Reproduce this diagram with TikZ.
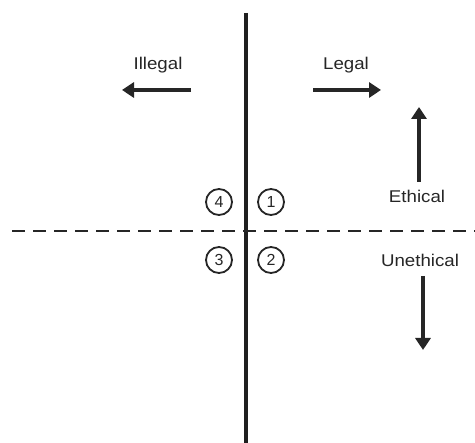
\documentclass[tikz,border=0pt]{standalone}
\usepackage{fontspec}
\setmainfont{Liberation Sans}
\usetikzlibrary{arrows.meta}
\newcommand{\wide}[1]{\scalebox{1.1}[1]{#1}}
\begin{document}
\begin{tikzpicture}[x=1pt,y=-1pt,
  lbl/.style={font=\fontsize{17}{20}\selectfont, text=black!85, inner sep=0pt, anchor=base},
  num/.style={circle, draw=black!85, line width=1.8pt, minimum size=26pt, inner sep=0pt, font=\fontsize{16}{18}\selectfont, text=black!85},
  bigarrow/.style={line width=4.4pt, draw=black!85, -{Triangle[length=12pt,width=15pt]}},
  axis/.style={line width=3.4pt, draw=black!88},
  dline/.style={line width=2.8pt, draw=black!85, dash pattern=on 13pt off 8pt}]
\useasboundingbox (0,0) rectangle (475,443);
\coordinate (vt) at (246,13);
\coordinate (vb) at (246,443);
\coordinate (hl) at (12,231);
\coordinate (hr) at (475,231);
\draw[axis] (vt) -- (vb);
\draw[dline] (hl) -- (hr);
\node[lbl] (illegal) at (158,70) {\wide{Illegal}};
\node[lbl] (legal) at (346,70) {\wide{Legal}};
\node[lbl] (ethical) at (417,203) {\wide{Ethical}};
\node[lbl] (unethical) at (420,267) {\wide{Unethical}};
\coordinate (ila) at (191,90); \coordinate (ilb) at (122,90);
\coordinate (lga) at (313,90); \coordinate (lgb) at (381,90);
\coordinate (eta) at (419,182); \coordinate (etb) at (419,107);
\coordinate (uea) at (423,276); \coordinate (ueb) at (423,350);
\draw[bigarrow] (ila) -- (ilb);
\draw[bigarrow] (lga) -- (lgb);
\draw[bigarrow] (eta) -- (etb);
\draw[bigarrow] (uea) -- (ueb);
\node[num] (n4) at (219,202) {4};
\node[num] (n1) at (271,202) {1};
\node[num] (n3) at (219,260) {3};
\node[num] (n2) at (271,260) {2};
\end{tikzpicture}
\end{document}
